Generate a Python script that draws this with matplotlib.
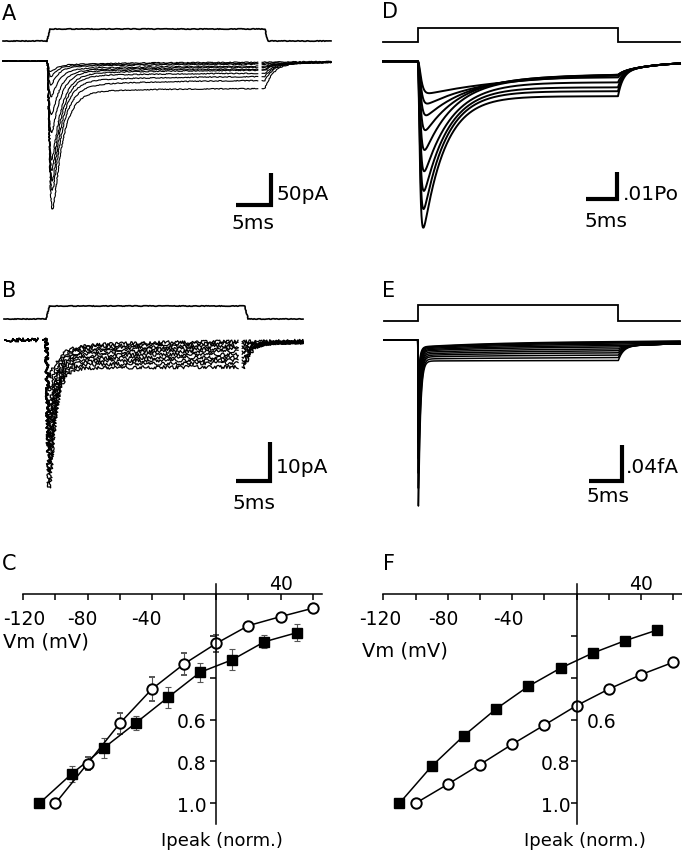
import numpy as np
import matplotlib
matplotlib.use("Agg")
import matplotlib.pyplot as plt
from matplotlib.transforms import offset_copy

# ---------------- data ----------------
# Panel A (recorded, pA) -- largest peak first
A_peak = [241, 210, 194, 176, 159, 115, 87, 58, 39, 26, 18]
A_early = [50, 41, 33, 25, 22, 17, 16, 13, 9.5, 8, 6.3]
A_late = [43, 30, 24, 19, 14, 12.6, 9.5, 7.9, 4.7, 3.2, 1.6]
A_rise = [0.25, 0.24, 0.23, 0.22, 0.21, 0.20, 0.19, 0.18, 0.17, 0.16, 0.15]
A_decay = [1.4, 1.4, 1.35, 1.35, 1.3, 1.3, 1.2, 1.1, 1.0, 0.9, 0.9]
A_step_off = 30.7      # ms

# Panel B (recorded, pA)
B_peak = [38.9, 34.6, 31.2, 28.7, 25.1, 22.5, 20.0, 16.6, 13.1, 9.7]
B_early = [7.4, 6.7, 5.9, 5.1, 4.4, 3.8, 3.3, 2.8, 2.6, 2.3]
B_late = [6.9, 5.9, 5.1, 4.4, 3.6, 2.8, 2.1, 1.5, 0.8, 0.3]
B_rise = [0.16, 0.16, 0.15, 0.15, 0.15, 0.14, 0.14, 0.14, 0.13, 0.13]
B_decay = [0.9, 0.95, 1.0, 1.05, 1.1, 1.15, 1.2, 1.25, 1.3, 1.35]
B_step_off = 29.8

# Panel D (model, open probability) -- smallest peak first
D_peak = [0.0122, 0.0162, 0.0207, 0.0264, 0.0340, 0.0422, 0.0498, 0.0568, 0.0640]
D_late = [0.0042, 0.0046, 0.0049, 0.0053, 0.0061, 0.0080, 0.0099, 0.0114, 0.0133]
D_rise = [0.35, 0.32, 0.30, 0.28, 0.26, 0.25, 0.24, 0.23, 0.22]
D_decay = [16, 10, 7.5, 6, 5, 4.5, 4, 3.7, 3.5]
D_step_off = 32.3

# Panel E (model, fA) -- largest peak first
E_peak = [0.183, 0.1635, 0.147, 0.131, 0.114, 0.100, 0.087, 0.076, 0.065, 0.054, 0.046, 0.038]
E_early = [0.0229, 0.0207, 0.0185, 0.0169, 0.0153, 0.0136, 0.0120, 0.0109, 0.0098, 0.0087, 0.0082, 0.0076]
E_late = [0.0223, 0.0191, 0.0163, 0.0136, 0.0114, 0.0093, 0.0071, 0.0054, 0.0038, 0.0027, 0.0016, 0.0009]
E_rise = [0.03] * 12
E_decay = [0.30, 0.30, 0.29, 0.29, 0.28, 0.28, 0.27, 0.27, 0.26, 0.26, 0.25, 0.25]
E_step_off = 30.96

# Panel C (recorded I-V, normalised peak current)
C_sq_v = [-110, -90, -70, -50, -30, -10, 10, 30, 50]
C_sq_i = [1.0, 0.860, 0.736, 0.616, 0.494, 0.374, 0.314, 0.228, 0.185]
C_sq_err = [0.0, 0.038, 0.049, 0.034, 0.052, 0.044, 0.050, 0.030, 0.041]
C_open_v = [-100, -80, -60, -40, -20, 0, 20, 40, 60]
C_open_i = [1.0, 0.810, 0.618, 0.454, 0.334, 0.236, 0.151, 0.108, 0.068]
C_open_err = [0.0, 0.029, 0.050, 0.058, 0.052, 0.041, 0.012, 0.008, 0.005]

# Panel F (model I-V)
F_sq_v = [-110, -90, -70, -50, -30, -10, 10, 30, 50]
F_sq_i = [1.0, 0.823, 0.677, 0.549, 0.441, 0.354, 0.282, 0.223, 0.172]
F_open_v = [-100, -80, -60, -40, -20, 0, 20, 40, 60]
F_open_i = [1.0, 0.909, 0.815, 0.718, 0.626, 0.533, 0.454, 0.385, 0.326]

x_tick_vals = list(range(-120, 61, 20))
x_tick_labels = {-120: "-120", -80: "-80", -40: "-40"}
y_tick_vals = [0.2, 0.4, 0.6, 0.8, 1.0]

# ---------------- figure ----------------
W, H = 682, 853
fig = plt.figure(figsize=(W / 100, H / 100), dpi=100)
FS_LET = 15
FS_SC = 14.5


def px_axes(l, t, r, b):
    return fig.add_axes([l / W, 1 - b / H, (r - l) / W, (b - t) / H])


def ftext(x, y, s, size, ha="left", va="baseline"):
    fig.text(x / W, 1 - y / H, s, fontsize=size, ha=ha, va=va)


def trace_axes(box, t0_px, px_ms, base_px, px_unit):
    l, t, r, b = box
    ax = px_axes(l, t, r, b)
    ax.set_xlim((l - t0_px) / px_ms, (r - t0_px) / px_ms)
    ax.set_ylim((base_px - b) / px_unit, (base_px - t) / px_unit)
    ax.axis("off")
    xv = lambda xp: (xp - t0_px) / px_ms
    yv = lambda yp: (base_px - yp) / px_unit
    return ax, xv, yv


def step_trace(t, pk, pe, pl, tr, td, ts, toff, c, tf_tail, ts_tail):
    y = np.zeros_like(t)
    on = (t > 0) & (t <= toff)
    tt = t[on]
    act = (1 - np.exp(-tt / tr)) ** 3
    fast = act * np.exp(-tt / td)
    fast = fast / fast.max()
    plat = pl + (pe - pl) * np.exp(-tt / ts)
    y[on] = -((pk - pe) * fast + plat * act)
    i_off = -y[on][-1]
    after = t > toff
    dt = t[after] - toff
    cc = min(c, i_off)
    y[after] = -(cc * np.exp(-dt / ts_tail) + (i_off - cc) * np.exp(-dt / tf_tail))
    return y


def voltage(ax, xv, yv, x0, x1, ybase, yhigh, toff, rise, lw, sketch=None):
    tv = [xv(x0), 0, rise, toff, toff + rise, xv(x1)]
    lv = [yv(ybase), yv(ybase), yv(yhigh), yv(yhigh), yv(ybase), yv(ybase)]
    ln, = ax.plot(tv, lv, color="k", lw=lw, solid_joinstyle="miter")
    if sketch:
        ln.set_sketch_params(*sketch)


def scalebar(ax, xv, yv, xc, yc, dx, dy, lw=3.0):
    cx, cy = xv(xc), yv(yc)
    ax.plot([cx - dx, cx, cx], [cy, cy, cy + dy], color="k", lw=lw,
            solid_capstyle="butt", solid_joinstyle="miter", clip_on=False)


# ---- Panel A ----
axA, xvA, yvA = trace_axes((0, 0, 340, 240), 47, 7.1, 62, 31.7 / 50)
voltage(axA, xvA, yvA, 3, 331, 42, 30, A_step_off, 0.4, 1.2, (0.3, 4, 16))
tA = np.arange(xvA(3), xvA(331), 0.02)
for i in range(len(A_peak)):
    y = step_trace(tA, A_peak[i], A_early[i], A_late[i], A_rise[i], A_decay[i], 12,
                   A_step_off, 5, 1.2, 10)
    y[(tA > 29.7) & (tA < 30.3)] = np.nan
    ln, = axA.plot(tA, y, color="k", lw=0.8)
    ln.set_sketch_params(0.4, 3, 16)
scalebar(axA, xvA, yvA, 271, 205.5, 5, 50)
ftext(277, 200, "50pA", FS_SC)
ftext(253, 229, "5ms", FS_SC, ha="center")
ftext(2, 20, "A", FS_LET)

# ---- Panel B ----
axB, xvB, yvB = trace_axes((0, 250, 340, 530), 46, 6.67, 341, 3.9)
voltage(axB, xvB, yvB, 4, 303, 320, 307, B_step_off, 0.5, 1.2, (0.3, 4, 16))
tB = np.arange(xvB(5), xvB(303), 0.02)
for i in range(len(B_peak)):
    y = step_trace(tB, B_peak[i], B_early[i], B_late[i], B_rise[i], B_decay[i], 10,
                   B_step_off, 1.0, 1.0, 15)
    y[(tB > -1.2) & (tB < -0.45)] = np.nan
    y[(tB > 28.8) & (tB < 29.4)] = np.nan
    ln, = axB.plot(tB, y, color="k", lw=0.9)
    ln.set_sketch_params(1.6, 2, 16)
scalebar(axB, xvB, yvB, 269.5, 482, 5, 10)
ftext(276, 473, "10pA", FS_SC)
ftext(254, 509, "5ms", FS_SC, ha="center")
ftext(2, 297, "B", FS_LET)

# ---- Panel D ----
axD, xvD, yvD = trace_axes((342, 0, 682, 240), 417.7, 6.2, 62.3, 26.3 / 0.01)
voltage(axD, xvD, yvD, 383, 680, 43.3, 29.3, D_step_off, 0.0, 1.3)
tD = np.arange(xvD(383), xvD(680), 0.01)
for i in range(len(D_peak)):
    y = step_trace(tD, D_peak[i], D_late[i], D_late[i], D_rise[i], D_decay[i], 10,
                   D_step_off, 0.0042, 0.8, 6)
    axD.plot(tD, y, color="k", lw=1.4)
scalebar(axD, xvD, yvD, 617, 199.5, 5, 0.01)
ftext(623, 200, ".01Po", FS_SC)
ftext(606, 227, "5ms", FS_SC, ha="center")
ftext(382, 18, "D", FS_LET)

# ---- Panel E ----
axE, xvE, yvE = trace_axes((342, 250, 682, 530), 417.7, 6.48, 341, 36.7 / 0.04)
voltage(axE, xvE, yvE, 384, 680, 321.7, 305.7, E_step_off, 0.0, 1.3)
tE = np.arange(xvE(384), xvE(680), 0.004)
for i in range(len(E_peak)):
    y = step_trace(tE, E_peak[i], E_early[i], E_late[i], E_rise[i], E_decay[i], 15,
                   E_step_off, 0.0065, 0.8, 20)
    axE.plot(tE, y, color="k", lw=1.1)
scalebar(axE, xvE, yvE, 621.5, 482.3, 5, 0.04)
ftext(626, 473, ".04fA", FS_SC)
ftext(608, 502, "5ms", FS_SC, ha="center")
ftext(382, 297, "E", FS_LET)


# ---- I-V panels ----
def iv_axes(l, r, xmax):
    ax = px_axes(l, 585, r, 825)
    ax.set_xlim(-120, xmax)
    ax.set_ylim(1.099, -0.048)
    for s in ("top", "right"):
        ax.spines[s].set_visible(False)
    ax.spines["left"].set_position(("data", 0))
    ax.spines["bottom"].set_position(("data", 0))
    for s in ("left", "bottom"):
        ax.spines[s].set_linewidth(1.1)
    ax.set_xticks(x_tick_vals)
    ax.set_xticklabels([])
    ax.set_yticks(y_tick_vals)
    ax.set_yticklabels([])
    ax.tick_params(direction="out", length=4, width=1.1)
    ax.patch.set_visible(False)
    return ax


def iv_labels(ax, offsets, below):
    for v, s in x_tick_labels.items():
        tr = offset_copy(ax.transData, fig=fig, x=offsets[v], y=-below, units="dots")
        ax.text(v, 0, s, transform=tr, ha="center", va="baseline", fontsize=13.5)
    tr = offset_copy(ax.transData, fig=fig, x=0, y=5, units="dots")
    ax.text(40, 0, "40", transform=tr, ha="center", va="baseline", fontsize=13.5)


# C
axC = iv_axes(23.3, 322, 65.8)
axC.errorbar(C_sq_v, C_sq_i, yerr=C_sq_err, fmt="-s", color="k", ms=7, lw=1.1,
             mfc="k", mec="k", ecolor="#555555", elinewidth=0.8, capsize=2.5,
             capthick=0.8, clip_on=False)
axC.errorbar(C_open_v, C_open_i, yerr=C_open_err, fmt="-o", color="k", ms=7.5,
             lw=1.1, mfc="white", mec="k", mew=1.4, ecolor="#555555",
             elinewidth=0.8, capsize=2.5, capthick=0.8, clip_on=False)
iv_labels(axC, {-120: 1, -80: -5, -40: -6}, 30)
for v in (0.6, 0.8, 1.0):
    tr = offset_copy(axC.transData, fig=fig, x=-9.5, y=-7.5, units="dots")
    axC.text(0, v, f"{v:.1f}", transform=tr, ha="right", va="baseline", fontsize=13.5)
ftext(3, 648, "Vm (mV)", 14)
ftext(222, 846, "Ipeak (norm.)", 13, ha="center")
ftext(2, 570, "C", FS_LET)

# F
axF = iv_axes(383.3, 682, 65.4)
axF.plot(F_sq_v, F_sq_i, "-s", color="k", ms=7, lw=1.1, mfc="k", clip_on=False)
axF.plot(F_open_v, F_open_i, "-o", color="k", ms=7.5, lw=1.1, mfc="white",
         mec="k", mew=1.4, clip_on=False)
iv_labels(axF, {-120: -3, -80: -4, -40: -4}, 30)
for v, xo, ha in ((0.6, 10, "left"), (0.8, -6, "right"), (1.0, -6, "right")):
    tr = offset_copy(axF.transData, fig=fig, x=xo, y=-7.5, units="dots")
    axF.text(0, v, f"{v:.1f}", transform=tr, ha=ha, va="baseline", fontsize=13.5)
ftext(362, 657, "Vm (mV)", 14)
ftext(585, 846, "Ipeak (norm.)", 13, ha="center")
ftext(383, 570, "F", FS_LET)

fig.savefig("out.png", dpi=100)
